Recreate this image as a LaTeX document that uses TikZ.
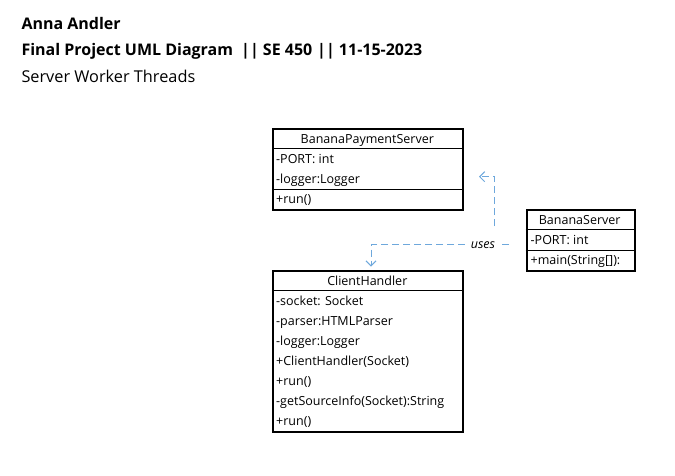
\documentclass[tikz,border=0pt]{standalone}
\usepackage{fontspec}
\setmainfont{Open Sans}
\usetikzlibrary{arrows.meta}
\definecolor{dep}{RGB}{110,168,220}
\begin{document}
\begin{tikzpicture}[x=1pt,y=-1pt,
  classbox/.style={draw=black,line width=2pt,anchor=north west,inner sep=0pt},
  row/.style={anchor=base west,inner sep=0pt,font=\fontsize{12.5}{14}\selectfont},
  ctitle/.style={anchor=base,inner sep=0pt,font=\fontsize{12.5}{14}\selectfont},
  head/.style={anchor=base west,inner sep=0pt,font=\fontsize{16.3}{19}\selectfont},
  headb/.style={anchor=base west,inner sep=0pt,font=\fontsize{16}{19}\selectfont\bfseries},
  sep/.style={line width=1pt},
  depline/.style={draw=dep,line width=1pt,dash pattern=on 7pt off 4pt,
    -{Straight Barb[length=5pt,width=10pt,line width=1pt]}}]
\useasboundingbox[fill=white] (0,0) rectangle (675,475);
% header
\node[headb] (h1) at (21.3,29.3) {Anna Andler};
\node[headb] (h2) at (21.3,55.3) {Final Project UML Diagram};
\node[headb] (h3) at (241,55.3) {|| SE 450};
\node[headb] (h4) at (317,55.3) {|| 11-15-2023};
\node[head] (h5) at (21.3,82) {Server Worker Threads};
% BananaPaymentServer
\node[classbox,minimum width=190pt,minimum height=81pt] (bps) at (272.3,128) {};
\draw[sep] (272.3,148.7) -- (462.3,148.7);
\draw[sep] (272.3,189) -- (462.3,189);
\node[ctitle] (bpsT) at (367.3,143.3) {BananaPaymentServer};
\node[row] (bps1) at (276,163.3) {-PORT: int};
\node[row] (bps2) at (276,183.3) {-logger:Logger};
\node[row] (bps3) at (276,203.3) {+run()};
% ClientHandler
\node[classbox,minimum width=190pt,minimum height=161pt] (ch) at (272.3,270) {};
\draw[sep] (272.3,290.7) -- (462.3,290.7);
\node[ctitle] (chT) at (367.3,285) {ClientHandler};
\node[row] (ch1) at (276,305) {-socket: Socket};
\node[row] (ch2) at (276,325) {-parser:HTMLParser};
\node[row] (ch3) at (276,345) {-logger:Logger};
\node[row] (ch4) at (276,365) {+ClientHandler(Socket)};
\node[row] (ch5) at (276,385) {+run()};
\node[row] (ch6) at (276,405) {-getSourceInfo(Socket):String};
\node[row] (ch7) at (276,425) {+run()};
% BananaServer
\node[classbox,minimum width=108pt,minimum height=60.7pt] (bs) at (525.7,209.3) {};
\draw[sep] (525.7,229.3) -- (633.7,229.3);
\draw[sep] (525.7,250) -- (633.7,250);
\node[ctitle] (bsT) at (579.7,224.3) {BananaServer};
\node[row] (bs1) at (530.5,244.3) {-PORT: int};
\node[row] (bs2) at (530.5,264.3) {+main(String[]):};
% connectors
\coordinate (s1) at (509,244.7);
\coordinate (e1) at (371,266.5);
\coordinate (s2) at (494.3,226);
\coordinate (e2) at (479,176.7);
\draw[depline] (s1) -| (e1);
\node[fill=white,inner xsep=6pt,inner ysep=2pt,anchor=base,font=\fontsize{12.5}{14}\selectfont\itshape] (uses) at (483,248.5) {uses};
\draw[depline] (s2) |- (e2);
\end{tikzpicture}
\end{document}
